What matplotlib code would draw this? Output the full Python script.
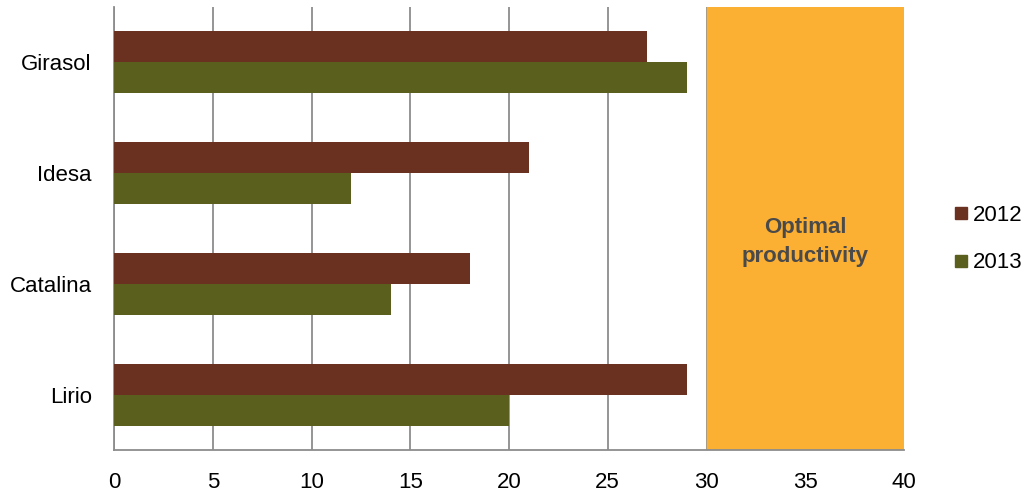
import matplotlib.pyplot as plt
import numpy as np
from matplotlib.lines import Line2D

plt.rcParams['font.family'] = ['Liberation Sans', 'DejaVu Sans']

categories = ['Girasol', 'Idesa', 'Catalina', 'Lirio']
values_2012 = [27, 21, 18, 29]
values_2013 = [29, 12, 14, 20]
optimal_range = [30, 40]
xticks = [0, 5, 10, 15, 20, 25, 30, 35, 40]

c2012 = '#6B3120'
c2013 = '#5A5F1E'
corange = '#FBB034'
cgrid = '#8C8C8C'

fig = plt.figure(figsize=(10.3, 5), dpi=100)
ax = fig.add_axes([114/1030, 50/500, 790/1030, 443/500])

y = np.arange(len(categories))[::-1]
h = 0.28
ax.barh(y + h/2, values_2012, height=h, color=c2012, zorder=3)
ax.barh(y - h/2, values_2013, height=h, color=c2013, zorder=3)

ax.axvspan(optimal_range[0] + 0.05, optimal_range[1] - 0.05, color=corange, zorder=2)
ax.text(sum(optimal_range)/2, 1.38, 'Optimal\nproductivity', ha='center', va='center',
        fontsize=16, fontweight='bold', color='#4A4A4A', linespacing=1.5, zorder=4)

ax.set_xlim(0, 40)
ax.set_ylim(-0.5, 3.5)
ax.set_xticks(xticks)
ax.set_yticks(y)
ax.set_yticklabels(categories)
ax.xaxis.grid(True, color=cgrid, linewidth=1.3, zorder=1)
ax.set_axisbelow(True)
ax.tick_params(axis='x', length=0, pad=16, labelsize=16)
ax.tick_params(axis='y', length=0, pad=16, labelsize=16)
for s in ['top', 'right']:
    ax.spines[s].set_visible(False)
for s in ['left', 'bottom']:
    ax.spines[s].set_color(cgrid)
    ax.spines[s].set_linewidth(1.3)

handles = [Line2D([], [], marker='s', linestyle='', markersize=9, color=c2012),
           Line2D([], [], marker='s', linestyle='', markersize=9, color=c2013)]
fig.legend(handles, ['2012', '2013'], loc='center left', bbox_to_anchor=(0.924, 0.522),
           frameon=False, fontsize=16, handletextpad=0.15, labelspacing=1.2,
           handlelength=0.8, borderpad=0, borderaxespad=0)

fig.savefig('out.png', dpi=100)
